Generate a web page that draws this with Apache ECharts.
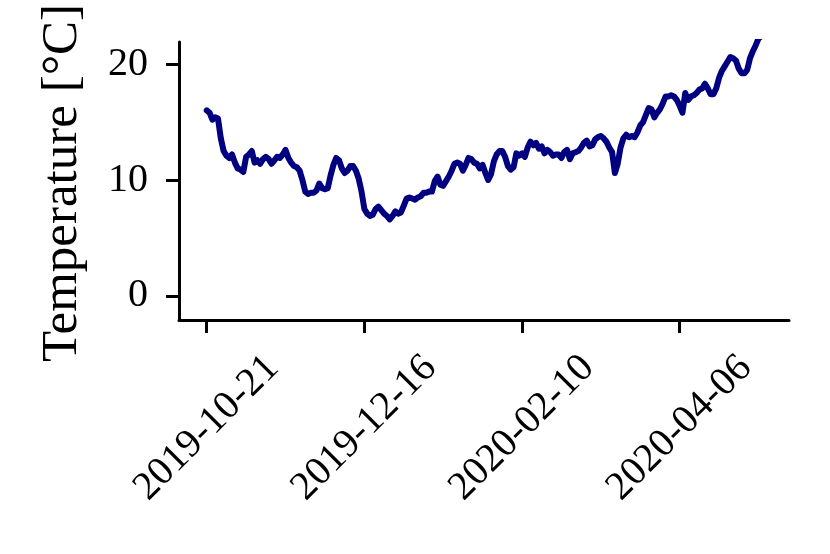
<!DOCTYPE html>
<html>
<head>
<meta charset="utf-8">
<script src="https://cdn.jsdelivr.net/npm/echarts@6/dist/echarts.min.js"></script>
<style>
html,body{margin:0;padding:0;background:#fff;}
#chart{width:830px;height:554px;}
</style>
</head>
<body>
<div id="chart"></div>
<script>
// Daily temperatures starting 2019-10-21 (one value per day)
var startDate = '2019-10-21';
var temperatures = [
  16.0, 15.8, 15.2, 15.4, 15.3, 13.6, 12.5, 12.1, 11.9, 12.2,
  11.5, 11.0, 10.9, 10.7, 12.0, 12.2, 12.5, 11.5, 11.7, 11.4,
  11.8, 12.0, 11.8, 11.4, 11.7, 12.0, 11.9, 12.2, 12.6, 11.9,
  11.5, 11.2, 11.1, 10.8, 10.0, 9.0, 8.8, 8.9, 8.9, 9.1,
  9.7, 9.3, 9.2, 9.3, 10.4, 11.3, 11.9, 11.7, 11.0,
  10.6, 10.8, 11.2, 11.2, 10.8, 10.1, 9.0, 7.5, 7.1, 6.9,
  7.0, 7.5, 7.7, 7.4, 7.1, 6.9, 6.6, 6.9, 7.3, 7.1,
  7.2, 7.8, 8.4, 8.5, 8.4, 8.3, 8.5, 8.6, 8.9, 8.9,
  9.0, 9.0, 9.9, 10.3, 9.6, 9.5, 9.9, 10.3, 10.8, 11.4,
  11.5, 11.4, 10.8, 11.3, 11.9, 11.8, 11.5, 11.4, 11.0, 11.3,
  10.6, 10.0, 10.5, 11.6, 12.2, 12.5, 12.5, 12.0, 11.2, 10.9,
  11.1, 12.3, 12.1, 12.3, 12.0, 12.8, 13.3, 13.0, 13.2, 12.7,
  12.9, 12.3, 12.6, 12.4, 12.1, 12.2, 12.2, 11.9, 12.4, 12.6,
  11.8, 12.3, 12.4, 12.5, 12.8, 13.2, 13.4, 12.9, 13.0, 13.5,
  13.7, 13.8, 13.6, 13.3, 12.8, 12.4, 10.6, 11.4, 12.8, 13.6,
  13.9, 13.7, 13.8, 13.7, 14.1, 14.7, 15.0, 15.6, 16.2, 16.1,
  15.4, 15.8, 16.1, 16.6, 17.2, 17.2, 17.3, 17.2, 16.9, 16.4,
  15.8, 17.5, 16.9, 17.2, 17.3, 17.5, 17.8, 17.9, 18.3, 17.9,
  17.4, 17.4, 17.9, 18.8, 19.4, 19.8, 20.2, 20.6, 20.5, 20.3,
  19.6, 19.2, 19.2, 19.5, 20.5, 21.1, 21.6, 22.2, 22.4
];
var xTickDays = [0, 56, 112, 168];
var xTickLabels = ['2019-10-21', '2019-12-16', '2020-02-10', '2020-04-06'];
var yTicks = [0, 10, 20];
var yLabel = 'Temperature [°C]';

var seriesData = temperatures.map(function (v, i) { return [i, v]; });

var FONT = "'Liberation Serif', 'Times New Roman', serif";
var chart = echarts.init(document.getElementById('chart'), null, {renderer: 'canvas'});
chart.setOption({
  animation: false,
  backgroundColor: '#ffffff',
  grid: {left: 179, right: 41, top: 42, bottom: 234, containLabel: false},
  xAxis: {
    type: 'value',
    min: -9.85,
    max: 206.85,
    splitLine: {show: false},
    axisLine: {show: true, onZero: false, lineStyle: {color: '#000', width: 3}},
    axisTick: {show: true, customValues: xTickDays, length: 13, inside: false, lineStyle: {color: '#000', width: 3}},
    axisLabel: {
      show: true,
      customValues: xTickDays,
      rotate: 45,
      align: 'center',
      verticalAlign: 'middle',
      margin: 108,
      color: '#000',
      fontFamily: FONT,
      fontSize: 40,
      formatter: function (v) {
        var idx = xTickDays.indexOf(Math.round(v));
        return idx >= 0 ? xTickLabels[idx] : '';
      }
    }
  },
  yAxis: {
    type: 'value',
    min: -2.07,
    max: 21.9,
    splitLine: {show: false},
    axisLine: {show: true, onZero: false, lineStyle: {color: '#000', width: 3}},
    axisTick: {show: true, customValues: yTicks, length: 13, inside: false, lineStyle: {color: '#000', width: 3}},
    axisLabel: {
      show: true,
      customValues: yTicks,
      margin: 31,
      color: '#000',
      fontFamily: FONT,
      fontSize: 40,
      formatter: function (v) { return String(Math.round(v)); }
    }
  },
  graphic: [{
    type: 'text',
    x: 63,
    y: 183,
    rotation: Math.PI / 2,
    style: {
      text: yLabel,
      fill: '#000',
      font: "51px 'Liberation Serif', 'Times New Roman', serif",
      align: 'center',
      verticalAlign: 'middle'
    }
  }],
  series: [{
    type: 'line',
    data: seriesData,
    showSymbol: false,
    symbol: 'none',
    clip: true,
    lineStyle: {color: '#000080', width: 6, join: 'round', cap: 'round'}
  }]
});
</script>
</body>
</html>
